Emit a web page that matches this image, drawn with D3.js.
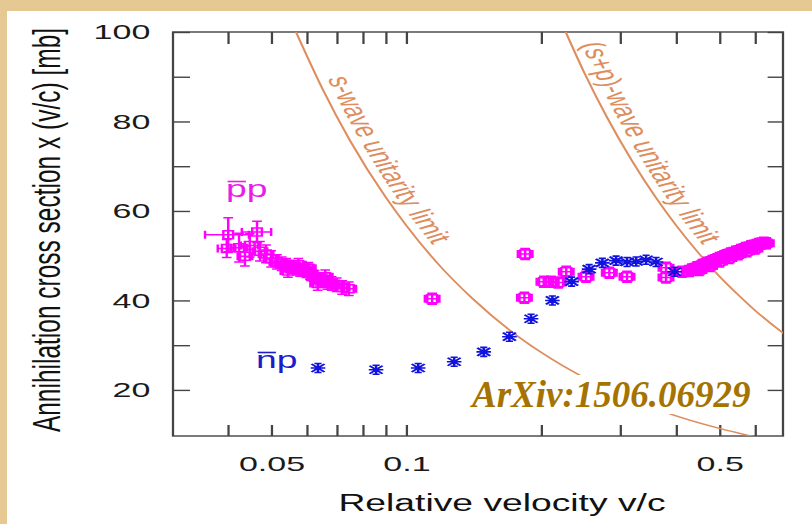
<!DOCTYPE html>
<html>
<head>
<meta charset="utf-8">
<script src="https://cdnjs.cloudflare.com/ajax/libs/d3/7.8.5/d3.min.js"></script>
<style>
	body { margin: 0; background: #e6c893; }
	svg { display: block; }
</style>
</head>
<body>
<div id="chart"></div>
<script>
// pbar-p points: [v/c, sigma*v (mb), error in v, error in sigma*v]
const ppLowV = [
	[0.0401, 54.7, 0.0045, 3.8], [0.0465, 55.3, 0.0035, 2.4], [0.0398, 51.6, 0.0018, 2.0],
	[0.0424, 51.8, 0.0018, 3.2], [0.0448, 52.3, 0.0020, 2.6], [0.0437, 49.9, 0.0015, 2.2],
	[0.0472, 51.0, 0.0015, 2.2], [0.0487, 50.4, 0.0015, 2.0], [0.0500, 49.3, 0.0015, 1.8],
	[0.0515, 48.6, 0.0015, 1.6], [0.0528, 48.2, 0.0015, 1.5], [0.0540, 47.9, 0.0015, 1.5],
	[0.0545, 46.6, 0.0015, 1.4], [0.0550, 47.6, 0.0015, 1.4], [0.0560, 47.4, 0.0015, 1.4],
	[0.0570, 47.1, 0.0015, 1.4], [0.0575, 48.0, 0.0015, 1.4], [0.0580, 46.8, 0.0015, 1.4],
	[0.0590, 46.9, 0.0015, 1.3], [0.0600, 46.4, 0.0015, 1.3], [0.0605, 47.2, 0.0015, 1.3],
	[0.0610, 46.0, 0.0015, 1.3], [0.0625, 45.2, 0.0015, 1.5], [0.0635, 43.8, 0.0015, 1.5],
	[0.0640, 44.7, 0.0015, 1.5], [0.0655, 44.4, 0.0015, 1.5], [0.0660, 45.3, 0.0015, 1.5],
	[0.0668, 44.0, 0.0015, 1.5], [0.0682, 43.8, 0.0015, 1.5], [0.0700, 43.5, 0.0015, 1.5],
	[0.0720, 42.9, 0.0015, 1.5], [0.0745, 42.6, 0.0015, 1.5]
]
const ppMidV = [
	[0.1143, 40.4, 0.003, 0.8], [0.1843, 50.4, 0.003, 0.8], [0.1836, 40.6, 0.003, 0.8],
	[0.203, 44.2, 0.003, 0.8], [0.2106, 44.2, 0.003, 0.8], [0.2184, 44.0, 0.003, 0.8],
	[0.2276, 46.4, 0.003, 0.8], [0.252, 45.3, 0.003, 0.8], [0.284, 46.2, 0.003, 0.8],
	[0.311, 45.3, 0.003, 0.8], [0.380, 47.3, 0.003, 0.8], [0.380, 45.1, 0.003, 0.8],
	[0.413, 46.4, 0.003, 0.8]
]
const ppHighV = [
	[0.428, 46.6, 0, 0], [0.434, 46.9, 0, 0], [0.440, 47.0, 0, 0], [0.446, 47.4, 0, 0],
	[0.452, 47.5, 0, 0], [0.458, 47.9, 0, 0], [0.464, 48.0, 0, 0], [0.470, 48.4, 0, 0],
	[0.476, 48.5, 0, 0], [0.482, 48.8, 0, 0], [0.488, 49.0, 0, 0], [0.494, 49.2, 0, 0],
	[0.500, 49.5, 0, 0], [0.506, 49.6, 0, 0], [0.512, 49.9, 0, 0], [0.518, 50.1, 0, 0],
	[0.524, 50.2, 0, 0], [0.530, 50.5, 0, 0], [0.537, 50.6, 0, 0], [0.544, 50.9, 0, 0],
	[0.551, 51.0, 0, 0], [0.558, 51.3, 0, 0], [0.565, 51.4, 0, 0], [0.572, 51.7, 0, 0],
	[0.580, 51.8, 0, 0], [0.588, 52.1, 0, 0], [0.596, 52.2, 0, 0], [0.604, 52.4, 0, 0],
	[0.612, 52.6, 0, 0], [0.620, 52.7, 0, 0], [0.628, 52.9, 0, 0], [0.636, 52.8, 0, 0],
	[0.450, 46.8, 0, 0], [0.475, 47.7, 0, 0], [0.500, 48.7, 0, 0], [0.525, 49.5, 0, 0],
	[0.550, 50.3, 0, 0], [0.575, 51.0, 0, 0], [0.600, 51.6, 0, 0]
]
// nbar-p points: [v/c, sigma*v (mb)]
const npV = [
	[0.0636, 24.9], [0.0857, 24.5], [0.1064, 24.9], [0.128, 26.3], [0.149, 28.5],
	[0.170, 31.9], [0.190, 35.9], [0.212, 40.0], [0.234, 44.2], [0.256, 47.0],
	[0.274, 48.4], [0.294, 48.9], [0.311, 48.6], [0.326, 48.7], [0.343, 49.1],
	[0.361, 48.6], [0.397, 46.4]
]
// unitarity limits
const sWaveLimit = [
	[0.0568, 100], [0.065, 87.4], [0.075, 75.7], [0.09, 63.1], [0.1, 56.8], [0.12, 47.3],
	[0.14, 40.6], [0.17, 33.4], [0.2, 28.4], [0.25, 22.7], [0.3, 18.9], [0.4, 14.2],
	[0.5, 11.4], [0.6, 9.5]
]
const spWaveLimit = [
	[0.227, 100], [0.25, 90.8], [0.28, 81.1], [0.32, 71.0], [0.36, 63.1], [0.4, 56.8],
	[0.45, 50.5], [0.5, 45.4], [0.55, 41.3], [0.6, 37.8], [0.65, 34.9], [0.7, 32.4]
]
const xTicks = [0.04, 0.05, 0.06, 0.07, 0.08, 0.09, 0.1, 0.2, 0.3, 0.4, 0.5, 0.6]
const xLabels = [0.05, 0.1, 0.5]
const yTicks = [20, 30, 40, 50, 60, 70, 80, 90, 100]
const yLabels = [20, 40, 60, 80, 100]

const sx = 1.62 // the picture is stretched sideways
const font = 'Liberation Sans, Arial, Helvetica, sans-serif'
const axisColor = '#444'
const limitColor = '#de8d5e'

const svg = d3.select('#chart')
	.append('svg')
	.attr('width', 812)
	.attr('height', 524)

svg.append('rect')
	.attr('width', 812).attr('height', 524)
	.attr('fill', '#e6c893')
svg.append('rect')
	.attr('x', 7).attr('y', 11)
	.attr('width', 805).attr('height', 513)
	.attr('fill', '#fff')

const g = svg.append('g').attr('transform', `scale(${sx},1)`)

const plotLeft = 173 / sx
const plotRight = 783 / sx
const plotTop = 32
const plotBottom = 436

const x = d3.scaleLog().domain([0.0302, 0.693]).range([plotLeft, plotRight])
const y = d3.scaleLinear().domain([9.7, 100]).range([plotBottom, plotTop])

g.append('clipPath').attr('id', 'plotclip')
	.append('rect')
	.attr('x', plotLeft).attr('y', plotTop)
	.attr('width', plotRight - plotLeft).attr('height', plotBottom - plotTop)

// axes, ticks pointing inwards
const fmtX = d => xLabels.includes(d) ? String(d) : ''
const fmtY = d => yLabels.includes(d) ? String(d) : ''

const axes = [
	[d3.axisBottom(x).tickValues(xTicks).tickFormat(fmtX).tickSizeInner(-11).tickPadding(20), `translate(0,${plotBottom})`],
	[d3.axisTop(x).tickValues(xTicks).tickFormat('').tickSizeInner(-12), `translate(0,${plotTop})`],
	[d3.axisLeft(y).tickValues(yTicks).tickFormat(fmtY).tickSizeInner(-10.5).tickPadding(14), `translate(${plotLeft},0)`],
	[d3.axisRight(y).tickValues(yTicks).tickFormat('').tickSizeInner(-9.5), `translate(${plotRight},0)`]
]
axes.forEach(([ax, tr]) => {
	const a = g.append('g').attr('transform', tr).call(ax.tickSizeOuter(0))
	a.select('.domain').remove()
	a.selectAll('line').attr('stroke', axisColor).attr('stroke-width', 1.4)
	a.selectAll('text')
		.attr('font-family', font)
		.attr('font-size', 21)
		.attr('fill', '#1a1a1a')
})

g.append('rect')
	.attr('x', plotLeft).attr('y', plotTop)
	.attr('width', plotRight - plotLeft).attr('height', plotBottom - plotTop)
	.attr('fill', 'none')
	.attr('stroke', axisColor)
	.attr('stroke-width', 1.4)

// unitarity limit curves
const line = d3.line()
	.x(d => x(d[0]))
	.y(d => y(d[1]))
	.curve(d3.curveMonotoneX)

const limits = [
	{ id: 'swave', data: sWaveLimit, label: 's-wave unitarity limit', offset: 50 },
	{ id: 'spwave', data: spWaveLimit, label: '(s+p)-wave unitarity limit', offset: 14 }
]
limits.forEach(l => {
	g.append('path')
		.attr('id', l.id)
		.attr('d', line(l.data))
		.attr('fill', 'none')
		.attr('stroke', limitColor)
		.attr('stroke-width', 1.4)
		.attr('clip-path', 'url(#plotclip)')
	g.append('text')
		.attr('font-family', font)
		.attr('font-size', 20)
		.attr('fill', limitColor)
		.attr('dy', -6)
		.append('textPath')
		.attr('href', '#' + l.id)
		.attr('startOffset', l.offset)
		.text(l.label)
})

// pbar-p markers: open square, crossed, with error bars
const ppAll = ppLowV.concat(ppMidV, ppHighV)
g.append('g')
	.attr('fill', 'none')
	.attr('stroke', '#f0f')
	.attr('stroke-width', 1.5)
	.selectAll('path')
	.data(ppAll)
	.join('path')
	.attr('d', d => {
		const cx = x(d[0]), cy = y(d[1])
		const xl = Math.min(x(d[0] - d[2]), cx - 4.5), xr = Math.max(x(d[0] + d[2]), cx + 4.5)
		const yt = Math.min(y(d[1] + d[3]), cy - 5.5), yb = Math.max(y(d[1] - d[3]), cy + 5.5)
		return `M${cx - 3},${cy - 4}h6v8h-6Z` +
			`M${xl},${cy}H${xr}M${xl},${cy - 4}V${cy + 4}M${xr},${cy - 4}V${cy + 4}` +
			`M${cx},${yt}V${yb}M${cx - 3},${yt}H${cx + 3}M${cx - 3},${yb}H${cx + 3}`
	})

// nbar-p markers: asterisks
g.append('g')
	.attr('fill', 'none')
	.attr('stroke', '#1212e0')
	.attr('stroke-width', 1.6)
	.selectAll('path')
	.data(npV)
	.join('path')
	.attr('d', d => {
		const cx = x(d[0]), cy = y(d[1])
		return `M${cx - 4.5},${cy}H${cx + 4.5}M${cx},${cy - 4.5}V${cy + 4.5}` +
			`M${cx - 4},${cy - 4}L${cx + 4},${cy + 4}M${cx - 4},${cy + 4}L${cx + 4},${cy - 4}` +
			`M${cx - 2.2},${cy - 4.5}H${cx + 2.2}M${cx - 2.2},${cy + 4.5}H${cx + 2.2}`
	})

// series labels with a bar over the first letter
const seriesLabels = [
	{ text: 'pp', x: 226 / sx, y: 197, color: '#e81ee8' },
	{ text: 'np', x: 256 / sx, y: 368, color: '#1c1cc8' }
]
seriesLabels.forEach(s => {
	const t = g.append('text')
		.attr('x', s.x).attr('y', s.y)
		.attr('font-family', font)
		.attr('font-size', 23)
		.attr('fill', s.color)
		.text(s.text)
	const w = t.node().getSubStringLength(0, 1)
	g.append('line')
		.attr('x1', s.x + 1).attr('x2', s.x + w - 0.5)
		.attr('y1', s.y - 15.5).attr('y2', s.y - 15.5)
		.attr('stroke', s.color)
		.attr('stroke-width', 1.6)
})

// axis titles
g.append('text')
	.attr('x', 502 / sx).attr('y', 511)
	.attr('text-anchor', 'middle')
	.attr('font-family', font)
	.attr('font-size', 23)
	.attr('fill', '#111')
	.text('Relative velocity v/c')

g.append('text')
	.attr('transform', `translate(${60 / sx},230) rotate(-90)`)
	.attr('text-anchor', 'middle')
	.attr('font-family', font)
	.attr('font-size', 24.5)
	.attr('fill', '#111')
	.text('Annihilation cross section x (v/c) [mb]')

// reference tag, not stretched
svg.append('rect')
	.attr('x', 466).attr('y', 375)
	.attr('width', 294).attr('height', 39)
	.attr('fill', '#fff')
svg.append('text')
	.attr('x', 472).attr('y', 407)
	.attr('font-family', 'Liberation Serif, Times New Roman, serif')
	.attr('font-weight', 'bold')
	.attr('font-style', 'italic')
	.attr('font-size', 37)
	.attr('fill', '#a57300')
	.text('ArXiv:1506.06929')
</script>
</body>
</html>
